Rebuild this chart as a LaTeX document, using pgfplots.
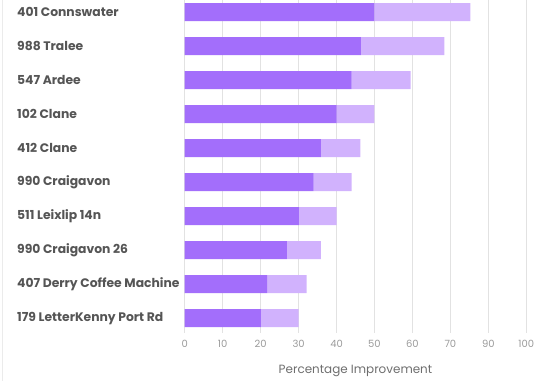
\documentclass[border=0pt]{standalone}
\usepackage{pgfplots}
\pgfplotsset{compat=1.18}
\usepackage{fontspec}
\setmainfont{Poppins}
\definecolor{darkp}{HTML}{A36EFB}
\definecolor{lightp}{HTML}{D1B2FD}
\definecolor{labgray}{HTML}{555555}
\definecolor{tickgray}{HTML}{9A9A9A}
\definecolor{gridgray}{HTML}{E2E2E2}
\begin{document}
\begin{tikzpicture}
\path[use as bounding box] (-184.7bp,-48bp) rectangle (352.3bp,333bp);
\draw[gridgray!70, line width=0.8pt] (-182.7bp,-48bp) -- (-182.7bp,333bp);
\begin{axis}[
  at={(0,0)}, anchor=south west,
  scale only axis,
  width=341.6bp, height=333bp,
  xbar stacked,
  bar width=18bp,
  xmin=0, xmax=90,
  ymin=-0.435, ymax=9.36,
  axis line style={draw=none},
  xtick={0,10,20,30,40,50,60,70,80,90},
  xticklabels={0,10,20,30,40,50,60,70,90,100},
  ytick={0,...,9},
  yticklabels={179 LetterKenny Port Rd,407 Derry Coffee Machine,990 Craigavon 26,511 Leixlip 14n,990 Craigavon,412 Clane,102 Clane,547 Ardee,988 Tralee,401 Connswater},
  major tick length=0pt,
  xmajorgrids,
  grid style={gridgray, line width=0.8pt},
  xticklabel style={font=\fontsize{10}{12}\selectfont, text=tickgray, anchor=center, yshift=-11bp},
  yticklabel style={font=\fontsize{12.4}{14}\selectfont\bfseries, text=labgray, anchor=west, inner sep=0pt, xshift=-167.7bp},
  /pgf/number format/assume math mode=true,
  xlabel={Percentage Improvement},
  xlabel style={font=\fontsize{12}{14}\selectfont, text=labgray!85, at={(axis description cs:0.5,0)}, anchor=center, yshift=-37.7bp},
]
\addplot[fill=darkp, draw=none] coordinates {
 (20.1,0) (21.7,1) (26.9,2) (30.1,3) (34,4) (35.9,5) (40,6) (44,7) (46.4,8) (50,9)};
\addplot[fill=lightp, draw=none] coordinates {
 (9.9,0) (10.4,1) (9,2) (9.9,3) (10,4) (10.4,5) (10,6) (15.5,7) (22,8) (25.3,9)};
\end{axis}
\end{tikzpicture}
\end{document}
